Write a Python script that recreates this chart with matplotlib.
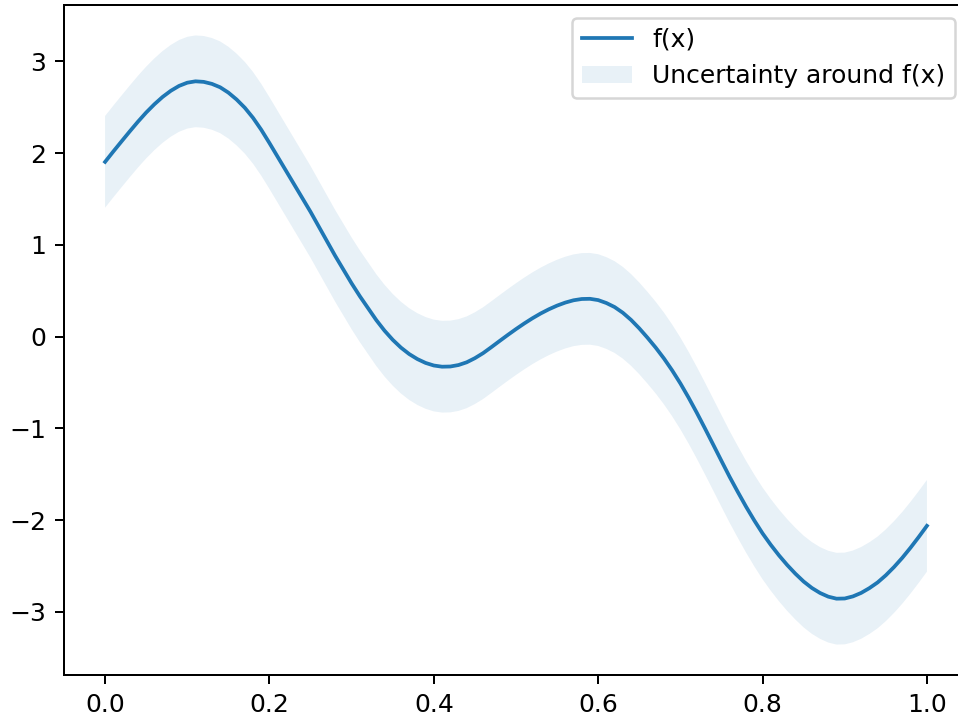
import matplotlib
matplotlib.use('Agg')
from matplotlib import pyplot as plt
import numpy as np

# f(x), one value every 0.01 from 0 to 1
x_step = 0.01
fx = [1.905, 2.018, 2.128, 2.237, 2.343, 2.443, 2.533, 2.613, 2.680, 2.733,
      2.768, 2.783, 2.777, 2.755, 2.718, 2.660, 2.585, 2.495, 2.385, 2.255,
      2.110, 1.960, 1.810, 1.660, 1.510, 1.360, 1.200, 1.040, 0.880, 0.730,
      0.580, 0.440, 0.310, 0.180, 0.065, -0.035, -0.120, -0.190, -0.245, -0.287,
      -0.315, -0.328, -0.326, -0.310, -0.280, -0.235, -0.180, -0.115, -0.048, 0.018,
      0.082, 0.143, 0.200, 0.252, 0.298, 0.338, 0.371, 0.396, 0.410, 0.412,
      0.398, 0.366, 0.322, 0.260, 0.182, 0.090, -0.012, -0.120, -0.238, -0.368,
      -0.510, -0.665, -0.830, -1.002, -1.178, -1.355, -1.530, -1.695, -1.855, -2.005,
      -2.145, -2.270, -2.385, -2.490, -2.585, -2.670, -2.740, -2.795, -2.835, -2.857,
      -2.855, -2.832, -2.794, -2.742, -2.680, -2.602, -2.512, -2.412, -2.302, -2.185,
      -2.063]
half_width = 0.5  # band around f(x)

fx = np.array(fx)
x = np.arange(len(fx)) * x_step

fig = plt.figure(figsize=(958 / 180, 721 / 180), dpi=180)
ax = fig.add_axes([64 / 958, 46 / 721, 904 / 958, 670 / 721])
ax.plot(x, fx, label='f(x)')
ax.fill_between(x, fx - half_width, fx + half_width, alpha=0.1,
                label='Uncertainty around f(x)')
ax.legend(loc='upper right')

plt.savefig('out.png')
